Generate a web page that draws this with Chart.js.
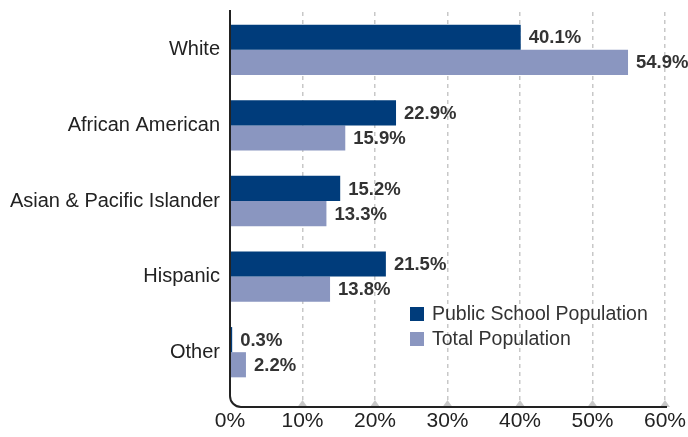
<!DOCTYPE html>
<html>
<head>
<meta charset="utf-8">
<script src="https://cdn.jsdelivr.net/npm/chart.js@4"></script>
<style>
  html, body { margin: 0; padding: 0; background: #fff; }
  #wrap { width: 688px; height: 437px; }
</style>
</head>
<body>
<div id="wrap"><canvas id="raceChart" width="688" height="437"></canvas></div>
<script>
const groups = ["White", "African American", "Asian & Pacific Islander", "Hispanic", "Other"];
const schoolPct = [40.1, 22.9, 15.2, 21.5, 0.3];
const totalPct = [54.9, 15.9, 13.3, 13.8, 2.2];
const pctTicks = [0, 10, 20, 30, 40, 50, 60];

const DARK = "#003c7b";
const LIGHT = "#8a96c0";

/* axis with rounded corner, grid markers, value labels and legend */
const decorations = {
    id: "decorations",
    afterDatasetsDraw(chart) {
        const ctx = chart.ctx;
        const area = chart.chartArea;
        const x = chart.scales.x;

        // little triangles at the foot of each grid line
        ctx.save();
        ctx.fillStyle = "#c8c8c8";
        pctTicks.forEach(t => {
            if (t === 0) return;
            const px = x.getPixelForValue(t);
            ctx.beginPath();
            ctx.moveTo(px - 5, area.bottom);
            ctx.lineTo(px + 5, area.bottom);
            ctx.lineTo(px, area.bottom - 7);
            ctx.closePath();
            ctx.fill();
        });

        // L-shaped axis with a rounded corner
        const r = 11;
        ctx.strokeStyle = "#222";
        ctx.lineWidth = 2;
        ctx.beginPath();
        ctx.moveTo(area.left, area.top - 2);
        ctx.lineTo(area.left, area.bottom - r);
        ctx.arcTo(area.left, area.bottom, area.left + r, area.bottom, r);
        ctx.lineTo(area.right + 2, area.bottom);
        ctx.stroke();

        // value labels at the end of each bar
        ctx.font = "bold 18.5px 'Liberation Sans', Arial, sans-serif";
        ctx.fillStyle = "#333";
        ctx.textBaseline = "middle";
        ctx.textAlign = "left";
        chart.data.datasets.forEach((ds, i) => {
            chart.getDatasetMeta(i).data.forEach((bar, j) => {
                ctx.fillText(ds.data[j].toFixed(1) + "%", bar.x + 8, bar.y + 1);
            });
        });

        // legend
        ctx.font = "19.5px 'Liberation Sans', Arial, sans-serif";
        chart.data.datasets.forEach((ds, i) => {
            const ly = 307 + i * 25;
            ctx.fillStyle = ds.backgroundColor;
            ctx.fillRect(410, ly, 14, 14);
            ctx.fillStyle = "#333";
            ctx.fillText(ds.label, 432, ly + 8);
        });
        ctx.restore();
    }
};

new Chart(document.getElementById("raceChart"), {
    type: "bar",
    data: {
        labels: groups,
        datasets: [
            { label: "Public School Population", data: schoolPct, backgroundColor: DARK },
            { label: "Total Population", data: totalPct, backgroundColor: LIGHT }
        ]
    },
    options: {
        indexAxis: "y",
        responsive: false,
        animation: false,
        layout: { padding: { top: 12, right: 23, bottom: 0, left: 0 } },
        datasets: { bar: { barPercentage: 1, categoryPercentage: 0.665 } },
        plugins: { legend: { display: false }, tooltip: { enabled: false } },
        scales: {
            x: {
                min: 0,
                max: 60,
                afterBuildTicks: s => { s.ticks = pctTicks.map(v => ({ value: v })); },
                afterFit: s => {
                    s.height = 30;
                    s.paddingLeft = 0;
                    s.paddingRight = 0;
                },
                border: { display: false, dash: [4, 4] },
                grid: {
                    drawTicks: false,
                    color: c => c.tick && c.tick.value === 0 ? "rgba(0,0,0,0)" : "#c8c8c8",
                    lineWidth: 1.5
                },
                ticks: {
                    padding: 2,
                    color: "#222",
                    font: { family: "'Liberation Sans Narrow', 'Liberation Sans', sans-serif", size: 21 },
                    callback: v => v + "%"
                }
            },
            y: {
                // leave a little room below the last group, above the axis
                afterBuildTicks: s => { s._valueRange += 0.225; },
                afterFit: s => {
                    s.width = 230;
                    s.paddingTop = 0;
                    s.paddingBottom = 0;
                },
                border: { display: false },
                grid: { display: false, drawTicks: false },
                ticks: {
                    padding: 10,
                    color: "#222",
                    font: { family: "'Liberation Sans', Arial, sans-serif", size: 20 }
                }
            }
        }
    },
    plugins: [decorations]
});
</script>
</body>
</html>
